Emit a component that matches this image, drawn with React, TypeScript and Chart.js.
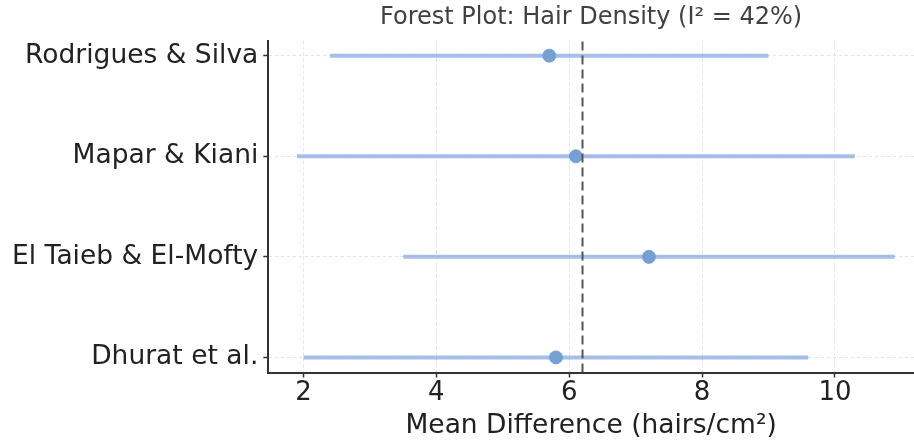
import React, { useEffect, useRef } from "react";
import { Chart, registerables } from "chart.js";

Chart.register(...registerables);

// Studies, bottom to top
const studies = ["Dhurat et al.", "El Taieb & El-Mofty", "Mapar & Kiani", "Rodrigues & Silva"];
const meanDiff = [5.8, 7.2, 6.1, 5.7];
const ciLow = [2.0, 3.5, 1.9, 2.4];
const ciHigh = [9.6, 10.9, 10.3, 9.0];
const pooled = 6.2;
const xTicks = [2, 4, 6, 8, 10];
const titleText = "Forest Plot: Hair Density (I² = 42%)";
const xTitle = "Mean Difference (hairs/cm²)";

const FONT = "'DejaVu Sans', sans-serif";

export default function App() {
  const ref = useRef<HTMLCanvasElement | null>(null);

  useEffect(() => {
    if (!ref.current) return;
    const ciSets = studies.map((s, i) => ({
      type: "line" as const,
      label: s + " CI",
      data: [
        { x: ciLow[i], y: i },
        { x: ciHigh[i], y: i },
      ],
      borderColor: "rgba(150,180,228,0.85)",
      borderWidth: 4,
      pointRadius: 0,
      showLine: true,
      order: 3,
    }));
    const chart = new Chart(ref.current, {
      type: "scatter",
      data: {
        datasets: [
          ...ciSets,
          {
            type: "line" as const,
            label: "Pooled",
            data: [
              { x: pooled, y: -0.15 },
              { x: pooled, y: 3.15 },
            ],
            borderColor: "#555555",
            borderWidth: 2,
            borderDash: [9, 5],
            pointRadius: 0,
            showLine: true,
            order: 1,
          },
          {
            type: "scatter" as const,
            label: "Mean difference",
            data: studies.map((_, i) => ({ x: meanDiff[i], y: i })),
            backgroundColor: "#74a0d4",
            borderColor: "#74a0d4",
            pointRadius: 6.5,
            order: 2,
          },
        ],
      },
      options: {
        responsive: false,
        animation: false,
        devicePixelRatio: 1,
        layout: { autoPadding: false, padding: { left: 0, right: 0, top: 0, bottom: 0 } },
        plugins: {
          legend: { display: false },
          tooltip: { enabled: false },
          title: {
            display: true,
            text: titleText,
            fullSize: false,
            color: "#404040",
            font: { family: FONT, size: 24, weight: "normal" },
            padding: { top: 3, bottom: 8.8 },
          },
        },
        scales: {
          x: {
            type: "linear",
            min: 1.47,
            max: 11.19,
            afterBuildTicks: (scale: any) => {
              scale.ticks = xTicks.map((v) => ({ value: v }));
            },
            afterFit: (scale: any) => {
              scale.height = 72.5;
              scale.paddingLeft = 0;
              scale.paddingRight = 0;
            },
            ticks: {
              color: "#222222",
              font: { family: FONT, size: 26 },
              padding: 0,
              maxRotation: 0,
              callback: (v: any) => String(v),
            },
            grid: {
              color: "#e2e2e2",
              lineWidth: 1,
              drawTicks: true,
              tickLength: 5,
              tickColor: "#333333",
              tickWidth: 1.5,
            },
            border: { display: true, color: "#333333", width: 2, dash: [3, 3] },
            title: {
              display: true,
              text: xTitle,
              color: "#222222",
              font: { family: FONT, size: 26.5 },
              padding: { top: 0, bottom: 3 },
            },
          },
          y: {
            type: "linear",
            min: -0.15,
            max: 3.15,
            afterBuildTicks: (scale: any) => {
              scale.ticks = studies.map((_, i) => ({ value: i }));
            },
            afterFit: (scale: any) => {
              scale.width = 268.3;
              scale.paddingTop = 0;
              scale.paddingBottom = 0;
            },
            ticks: {
              color: "#222222",
              font: { family: FONT, size: 26.5 },
              padding: 5,
              callback: (v: any) => studies[Number(v)] ?? "",
            },
            grid: {
              color: "#e2e2e2",
              lineWidth: 1,
              drawTicks: true,
              tickLength: 5,
              tickColor: "#333333",
              tickWidth: 1.5,
            },
            border: { display: true, color: "#333333", width: 2, dash: [3, 3] },
          },
        },
      },
    } as any);
    return () => chart.destroy();
  }, []);

  return (
    <div style={{ position: "fixed", left: 0, top: 0, width: 914, height: 445, background: "#fff" }}>
      <canvas ref={ref} width={914} height={445} style={{ display: "block" }} />
    </div>
  );
}
